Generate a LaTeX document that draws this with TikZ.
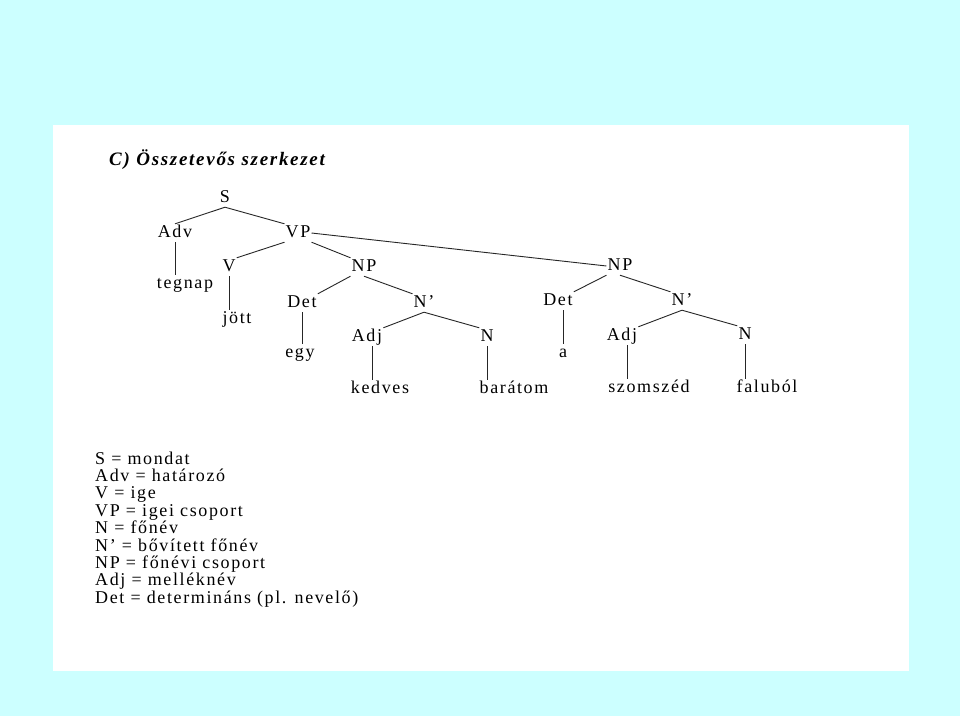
\documentclass[tikz,border=0pt]{standalone}
\usepackage{fontspec}
\setmainfont{Liberation Serif}[LetterSpace=9]
\definecolor{bgCyan}{HTML}{CCFFFF}
\newcommand{\treefont}{\fontsize{18}{18}\selectfont}
\newcommand{\titlefont}{\fontsize{19}{20}\selectfont\bfseries\itshape}
\begin{document}
\begin{tikzpicture}[
        x=1pt, y=-1pt,
        every node/.style={font=\treefont},
        tnode/.style={anchor=base, inner sep=1pt, text height=12pt, text depth=4pt},
        legend/.style={anchor=base west, inner sep=0pt},
        branch/.style={line width=0.9pt, black!85}
    ]
        % page and sheet
        \fill[bgCyan] (0,0) rectangle (960,716);
        \fill[white] (53,125) rectangle (909,671);
        \useasboundingbox (0,0) rectangle (960,716);

        \node[anchor=base west, inner sep=0pt, font=\titlefont] (title) at (109,165) {C) Összetevős szerkezet};

        % categories
        \node[tnode] (S) at (225,202) {S};
        \node[tnode] (Adv) at (175,237) {Adv};
        \node[tnode] (VP) at (298,237) {VP};
        \node[tnode] (V) at (229,271) {V};
        \node[tnode] (NPa) at (364,271) {NP};
        \node[tnode] (Deta) at (302,307) {Det};
        \node[tnode] (Nbara) at (424,307) {N'};
        \node[tnode] (Adja) at (367,341) {Adj};
        \node[tnode] (Na) at (487,341) {N};
        \node[tnode] (NPb) at (620,270) {NP};
        \node[tnode] (Detb) at (558,305) {Det};
        \node[tnode] (Nbarb) at (682,305) {N'};
        \node[tnode] (Adjb) at (622,340) {Adj};
        \node[tnode] (Nb) at (745,339) {N};

        % words
        \node[tnode] (tegnap) at (185,288) {tegnap};
        \node[tnode] (jott) at (237,323) {jött};
        \node[tnode] (egy) at (300,357) {egy};
        \node[tnode] (kedves) at (380,393) {kedves};
        \node[tnode] (baratom) at (514,393) {barátom};
        \node[tnode] (a) at (563,357) {a};
        \node[tnode] (szomszed) at (649,392) {szomszéd};
        \node[tnode] (falubol) at (767,392) {faluból};

        % branches
        \draw[branch] (S.south) -- (Adv.north);
        \draw[branch] (S.south) -- (VP.north west);
        \draw[branch] (VP.south west) -- (V.north east);
        \draw[branch] (VP.south east) -- (NPa.north west);
        \draw[branch] (VP.east) -- (NPb.west);
        \draw[branch] (NPa.south west) -- (Deta.north east);
        \draw[branch] (NPa.south) -- (Nbara.north west);
        \draw[branch] (Nbara.south) -- (Adja.north east);
        \draw[branch] (Nbara.south) -- (Na.north west);
        \draw[branch] (NPb.south west) -- (Detb.north east);
        \draw[branch] (NPb.south) -- (Nbarb.north west);
        \draw[branch] (Nbarb.south) -- (Adjb.north east);
        \draw[branch] (Nbarb.south) -- (Nb.north west);

        % unary branches down to the words
        \draw[branch] (Adv.south) -- (Adv.south |- tegnap.north);
        \draw[branch] (V.south) -- (V.south |- jott.north);
        \draw[branch] (Deta.south) -- (Deta.south |- egy.north);
        \draw[branch] ([xshift=5pt]Adja.south) -- ([xshift=5pt]Adja.south |- kedves.north);
        \draw[branch] (Na.south) -- (Na.south |- baratom.north);
        \draw[branch] ([xshift=5pt]Detb.south) -- ([xshift=5pt]Detb.south |- a.north);
        \draw[branch] ([xshift=5pt]Adjb.south) -- ([xshift=5pt]Adjb.south |- szomszed.north);
        \draw[branch] (Nb.south) -- (Nb.south |- falubol.north);

        % legend
        \foreach \txt [count=\i] in {S = mondat, Adv = határozó, V = ige,
            VP = igei csoport, N = főnév, N' = bővített főnév,
            NP = főnévi csoport, Adj = melléknév, Det = determináns (pl. nevelő)}
            \node[legend] (leg\i) at (95,{464+17.4*(\i-1)}) {\txt};
    \end{tikzpicture}
\end{document}
